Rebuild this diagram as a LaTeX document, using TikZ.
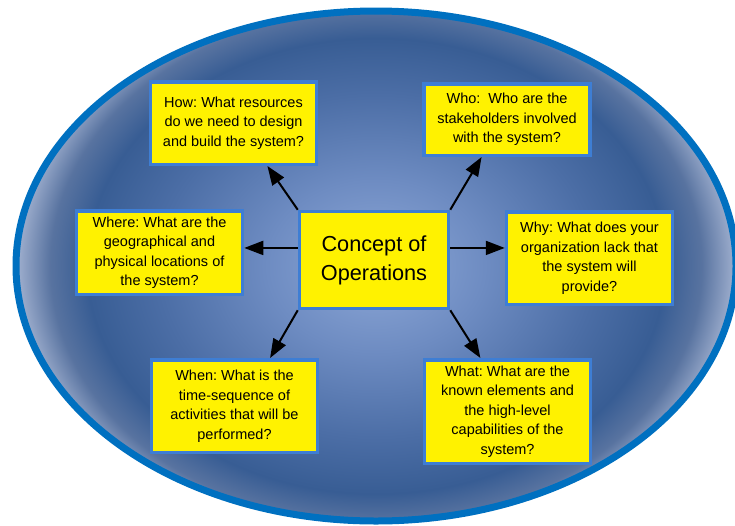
\documentclass[tikz,border=0pt]{standalone}
\usepackage{fontspec}
\setmainfont{Liberation Sans}
\usetikzlibrary{arrows.meta,calc}
\frenchspacing
\definecolor{ringblue}{RGB}{0,112,192}
\definecolor{boxblue}{RGB}{62,126,212}
\definecolor{glowA}{RGB}{142,168,215}
\definecolor{glowB}{RGB}{110,140,194}
\definecolor{glowC}{RGB}{76,110,166}
\definecolor{glowD}{RGB}{56,93,148}
\definecolor{glowE}{RGB}{88,115,160}
\definecolor{glowF}{RGB}{165,180,210}
\pgfdeclareradialshading{ovalglow}{\pgfpoint{0bp}{0bp}}{color(0bp)=(glowA); color(7.5bp)=(glowB); color(15bp)=(glowC); color(20bp)=(glowD); color(22.5bp)=(glowE); color(25bp)=(glowF); color(50bp)=(glowF)}
\begin{document}
\begin{tikzpicture}[x=1pt,y=1pt]
\tikzstyle{every node}+=[inner sep=2pt]
\tikzstyle{qbox}=[draw=boxblue, line width=3.5pt, fill=yellow, align=center, minimum width=166, font=\fontsize{14.5}{19.5}\selectfont]
\tikzstyle{arr}=[black, line width=2pt, -{Triangle[length=19pt,width=14pt]}]
\useasboundingbox (0,0) rectangle (735,-525);
\begin{scope}
\clip (376,-266) ellipse [x radius=360pt, y radius=255pt];
\shade [shading=ovalglow] (376,-266) ellipse [x radius=362pt, y radius=285pt];
\end{scope}
\draw [ringblue, line width=7pt] (376,-266) ellipse [x radius=360pt, y radius=255pt];
\node [qbox, minimum width=149, minimum height=97, font=\fontsize{21.7}{29}\selectfont] (ctr) at (374,-260) {Concept of\\Operations};
\node [qbox, minimum height=82.5] (how) at (233.5,-123) {How: What resources\\do we need to design\\and build the system?};
\node [qbox, minimum height=71.5] (who) at (507,-119.5) {Who:~ Who are the\\stakeholders involved\\with the system?};
\node [qbox, minimum height=83.5] (where) at (159.5,-252.5) {Where: What are the\\geographical and\\physical locations of\\the system?};
\node [qbox, minimum height=92.5] (why) at (589.5,-258) {Why: What does your\\organization lack that\\the system will\\provide?};
\node [qbox, minimum height=92.5] (when) at (234.5,-406) {When: What is the\\time-sequence of\\activities that will be\\performed?};
\node [qbox, minimum height=103.5] (what) at (507.5,-411.5) {What: What are the\\known elements and\\the high-level\\capabilities of the\\system?};
\coordinate (wst) at ($(ctr.north west)!0.38!(ctr.south west)$);
\coordinate (est) at ($(ctr.north east)!0.38!(ctr.south east)$);
\draw [arr] (ctr.north west) -- ($(how.south west)!0.7!(how.south east)$);
\draw [arr] (ctr.north east) -- ($(who.south west)!0.35!(who.south east)$);
\draw [arr] (wst) -- (wst -| where.east);
\draw [arr] (est) -- (est -| why.west);
\draw [arr] (ctr.south west) -- ($(when.north west)!0.71!(when.north east)$);
\draw [arr] (ctr.south east) -- ($(what.north west)!0.34!(what.north east)$);
\end{tikzpicture}
\end{document}
